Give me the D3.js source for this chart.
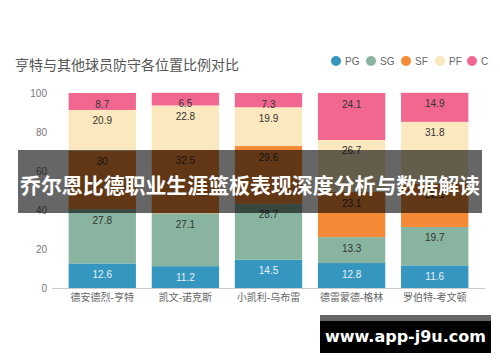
<!DOCTYPE html>
<html><head><meta charset="utf-8">
<script src="https://cdn.jsdelivr.net/npm/d3@7"></script>
<style>body{margin:0;background:#fff;}svg{display:block;font-family:"Liberation Sans","Noto Sans CJK SC",sans-serif;}</style>
</head><body><svg id="c" width="500" height="362"></svg>
<script>
const players = ["德安德烈-亨特","凯文-诺克斯","小凯利-乌布雷","德雷蒙德-格林","罗伯特-考文顿"];
const positions = ["PG","SG","SF","PF","C"];
const PG = [12.6, 11.2, 14.5, 12.8, 11.6];
const SG = [27.8, 27.1, 28.7, 13.3, 19.7];
const SF = [30, 32.5, 29.6, 23.1, 22.1];
const PF = [20.9, 22.8, 19.9, 26.7, 31.8];
const C  = [8.7, 6.5, 7.3, 24.1, 14.9];
const yTicks = [0, 20, 40, 60, 80, 100];
const colors = ["#3597c0","#88b4a0","#f58a36","#fce8bf","#f1678f"];
const title = "亨特与其他球员防守各位置比例对比";
const banner = "乔尔恩比德职业生涯篮板表现深度分析与数据解读";
const watermark = "www.app-j9u.com";

const series = [PG, SG, SF, PF, C];
const rows = players.map((p, i) => {
  const o = {player: p};
  positions.forEach((k, j) => o[k] = series[j][i]);
  return o;
});
const stacked = d3.stack().keys(positions)(rows);

const svg = d3.select("#c");
const x = d3.scaleBand().domain(players).range([52, 485]).paddingInner(0.19).paddingOuter(0.2);
const y = d3.scaleLinear().domain([0, 100]).range([288, 93]);

svg.append("text").attr("x", 15).attr("y", 70).attr("font-size", 14).attr("fill", "#555").text(title);

// legend
const lx = [336, 371, 406, 440, 472];
const lg = svg.append("g").selectAll("g").data(positions).join("g")
  .attr("transform", (d, i) => `translate(${lx[i]},61)`);
lg.append("circle").attr("r", 5).attr("fill", (d, i) => colors[i]);
lg.append("text").attr("x", 9).attr("y", 3.5).attr("font-size", 10).attr("fill", "#666").text(d => d);

// y axis labels
svg.append("g").selectAll("text").data(yTicks).join("text")
  .attr("x", 47).attr("y", d => y(d) + 4).attr("text-anchor", "end")
  .attr("font-size", 10).attr("fill", "#777").text(d => d);
svg.append("line").attr("x1", 52).attr("x2", 485).attr("y1", 288.5).attr("y2", 288.5).attr("stroke", "#ccc");

// bars
const layers = svg.append("g").selectAll("g").data(stacked).join("g").attr("fill", (d, i) => colors[i]);
layers.selectAll("rect").data(d => d).join("rect")
  .attr("x", d => x(d.data.player)).attr("width", x.bandwidth())
  .attr("y", d => y(d[1])).attr("height", d => y(d[0]) - y(d[1]));
layers.each(function(s, i) {
  d3.select(this).selectAll("text").data(s).join("text")
    .attr("x", d => x(d.data.player) + x.bandwidth() / 2)
    .attr("y", d => y(d[1]) + 14.5)
    .attr("text-anchor", "middle").attr("font-size", 10)
    .attr("fill", i === 0 ? "#e8f2f7" : "#333")
    .text(d => d.data[positions[i]]);
});

// x labels
svg.append("g").selectAll("text").data(players).join("text")
  .attr("x", d => x(d) + x.bandwidth() / 2).attr("y", 301)
  .attr("text-anchor", "middle").attr("font-size", 10).attr("fill", "#666").text(d => d);

// banner overlay
svg.append("rect").attr("x", 18).attr("y", 150).attr("width", 464).attr("height", 63).attr("fill", "rgba(0,0,0,0.6)");
svg.append("text").attr("x", 250).attr("y", 193).attr("text-anchor", "middle")
  .attr("font-size", 21).attr("font-weight", "bold").attr("fill", "#fff")
  .attr("textLength", 460).attr("lengthAdjust", "spacingAndGlyphs").text(banner);

// watermark
svg.append("rect").attr("x", 320).attr("y", 315).attr("width", 171).attr("height", 6).attr("fill", "#666");
svg.append("rect").attr("x", 320).attr("y", 321).attr("width", 171).attr("height", 32).attr("fill", "#000");
svg.append("text").attr("x", 405.5).attr("y", 342).attr("text-anchor", "middle")
  .attr("font-size", 16).attr("font-weight", "bold").attr("fill", "#fff")
  .attr("font-family", "'DejaVu Sans',sans-serif")
  .text(watermark);
</script></body></html>
